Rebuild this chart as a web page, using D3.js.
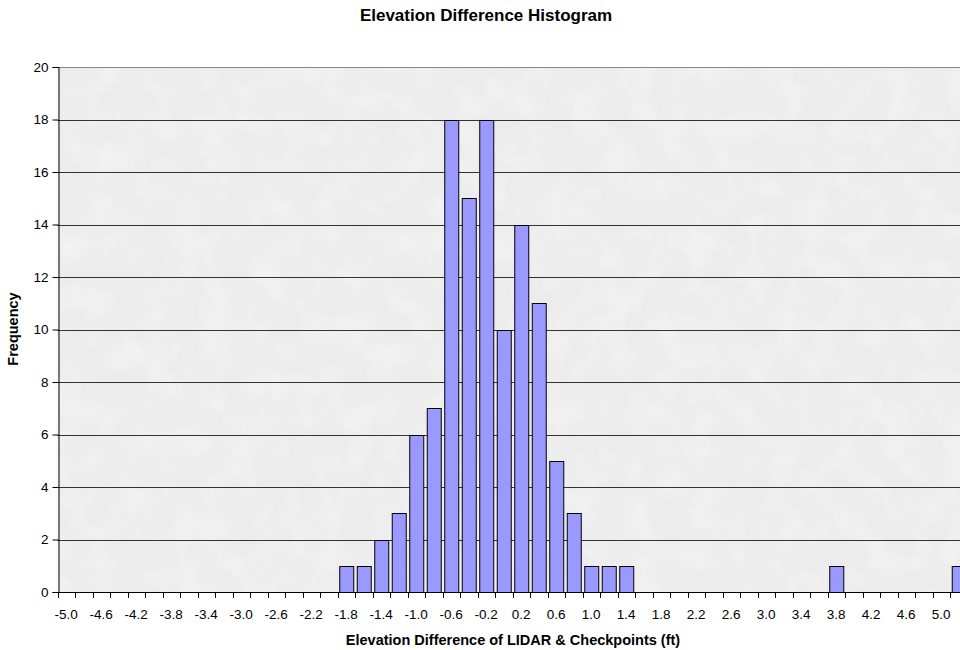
<!DOCTYPE html>
<html>
<head>
<meta charset="utf-8">
<script src="https://cdn.jsdelivr.net/npm/d3@7"></script>
<style>
  html, body { margin: 0; padding: 0; background: #fff; overflow: hidden; }
  svg { display: block; font-family: "Liberation Sans", Arial, sans-serif; }
</style>
</head>
<body>
<svg id="chart" width="960" height="650"></svg>
<script>
const bins = ["-5.0","-4.8","-4.6","-4.4","-4.2","-4.0","-3.8","-3.6","-3.4","-3.2",
  "-3.0","-2.8","-2.6","-2.4","-2.2","-2.0","-1.8","-1.6","-1.4","-1.2",
  "-1.0","-0.8","-0.6","-0.4","-0.2","0.0","0.2","0.4","0.6","0.8",
  "1.0","1.2","1.4","1.6","1.8","2.0","2.2","2.4","2.6","2.8",
  "3.0","3.2","3.4","3.6","3.8","4.0","4.2","4.4","4.6","4.8",
  "5.0","More"];
const frequency = [0,0,0,0,0,0,0,0,0,0,
  0,0,0,0,0,0,1,1,2,3,
  6,7,18,15,18,10,14,11,5,3,
  1,1,1,0,0,0,0,0,0,0,
  0,0,0,0,1,0,0,0,0,0,
  0,1];
const yTicks = [0,2,4,6,8,10,12,14,16,18,20];
const titleText = "Elevation Difference Histogram";
const xTitle = "Elevation Difference of LIDAR & Checkpoints (ft)";
const yTitle = "Frequency";

(function () {
const svg = d3.select("#chart");
const mLeft = 57.5, mTop = 67, mBottom = 592, step = 17.5;
const mRight = mLeft + bins.length * step;

const x = d3.scaleBand().domain(bins).range([mLeft, mRight])
  .paddingInner(0.2).paddingOuter(0.1);
const y = d3.scaleLinear().domain([0, 20]).range([mBottom, mTop]);

// subtle marble texture filter
const defs = svg.append("defs");
const f = defs.append("filter").attr("id", "marble")
  .attr("x", 0).attr("y", 0).attr("width", 1).attr("height", 1);
f.append("feTurbulence").attr("type", "fractalNoise")
  .attr("baseFrequency", "0.035").attr("numOctaves", 4).attr("seed", 3).attr("result", "n");
f.append("feColorMatrix").attr("in", "n").attr("type", "matrix")
  .attr("values", "0 0 0 0 1  0 0 0 0 1  0 0 0 0 1  -1.2 0 0 0 0.75");
f.append("feComposite").attr("in2", "SourceGraphic").attr("operator", "in");

// plot background
svg.append("rect").attr("x", mLeft).attr("y", mTop)
  .attr("width", mRight - mLeft).attr("height", mBottom - mTop)
  .attr("fill", "#ececec");
svg.append("rect").attr("x", mLeft).attr("y", mTop)
  .attr("width", mRight - mLeft).attr("height", mBottom - mTop)
  .attr("fill", "#fff").attr("opacity", 0.55).attr("filter", "url(#marble)");

// gridlines
svg.append("g").selectAll("line").data(yTicks.filter(d => d > 0)).join("line")
  .attr("x1", mLeft).attr("x2", mRight)
  .attr("y1", d => Math.round(y(d)) + 0.5).attr("y2", d => Math.round(y(d)) + 0.5)
  .attr("stroke", d => d === 20 ? "#888" : "#333").attr("stroke-width", 1);

// bars
svg.append("g").selectAll("rect").data(bins.map((b, i) => ({b, v: frequency[i]})).filter(d => d.v > 0))
  .join("rect")
  .attr("x", d => x(d.b) + 0.5)
  .attr("y", d => Math.round(y(d.v)) + 0.5)
  .attr("width", x.bandwidth())
  .attr("height", d => Math.round(y(0)) - Math.round(y(d.v)))
  .attr("fill", "#9999ff").attr("stroke", "#000").attr("stroke-width", 1);

// y axis
const yAxis = d3.axisLeft(y).tickValues(yTicks).tickSize(6).tickPadding(4);
const gy = svg.append("g").attr("transform", `translate(${Math.round(mLeft) + 0.5},0)`).call(yAxis);
gy.select(".domain").attr("stroke", "#000");
gy.selectAll(".tick line").attr("stroke", "#000");
gy.selectAll(".tick text").attr("font-size", 13.5).attr("fill", "#000")
  .attr("font-family", "Liberation Sans, Arial, sans-serif");

// x axis: baseline, boundary ticks, labels every other category
const gx = svg.append("g");
gx.append("line").attr("x1", mLeft).attr("x2", mRight)
  .attr("y1", Math.round(mBottom) + 0.5).attr("y2", Math.round(mBottom) + 0.5)
  .attr("stroke", "#000");
const bounds = d3.range(bins.length + 1).map(i => x.step() * i + mLeft);
gx.selectAll("line.tk").data(bounds).join("line").attr("class", "tk")
  .attr("x1", d => Math.round(d) + 0.5).attr("x2", d => Math.round(d) + 0.5)
  .attr("y1", mBottom).attr("y2", mBottom + 6).attr("stroke", "#000");
gx.selectAll("text").data(bins.filter((b, i) => i % 2 === 0)).join("text")
  .attr("x", d => x(d) + x.bandwidth() / 2)
  .attr("y", 619)
  .attr("text-anchor", "middle").attr("font-size", 13.5).attr("fill", "#000")
  .text(d => d);

// titles
svg.append("text").attr("x", 486).attr("y", 21).attr("text-anchor", "middle")
  .attr("font-size", 17).attr("font-weight", "bold").text(titleText);
svg.append("text").attr("x", 513).attr("y", 645).attr("text-anchor", "middle")
  .attr("font-size", 14.5).attr("font-weight", "bold").text(xTitle);
svg.append("text").attr("transform", "translate(18,329) rotate(-90)")
  .attr("text-anchor", "middle")
  .attr("font-size", 14.5).attr("font-weight", "bold").text(yTitle);
})();
</script>
</body>
</html>
